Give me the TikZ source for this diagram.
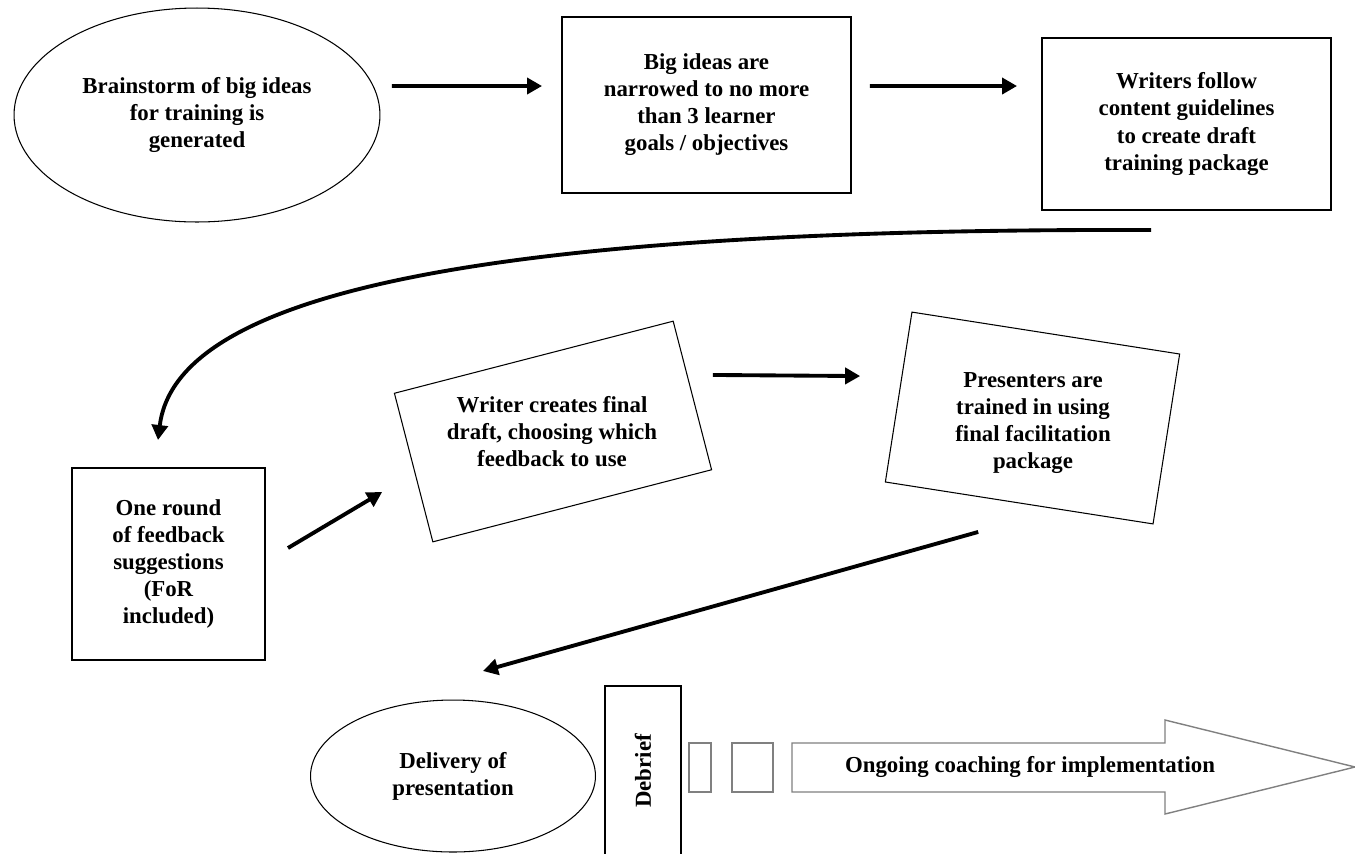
\documentclass[tikz,border=0pt]{standalone}
\usepackage{fontspec}
\setmainfont{Liberation Serif}
\usepackage{tikz}
\usetikzlibrary{arrows.meta,shapes.geometric}

\begin{document}
\begin{tikzpicture}[
  x=0.02cm, y=-0.02cm,
  txt/.style={font=\bfseries\fontsize{13}{15.4}\selectfont, align=center},
  box/.style={txt, draw, line width=1pt, inner sep=0pt, outer sep=0pt},
  oval/.style={txt, ellipse, draw, line width=0.6pt, inner sep=0pt, outer sep=0pt},
  tilted/.style={draw, line width=0.6pt, inner sep=0pt, outer sep=0pt},
  gbox/.style={draw=gray, line width=0.8pt, inner sep=0pt, outer sep=0pt},
  flow/.style={-{Triangle[length=0.3cm,width=0.32cm]}, line width=2.2pt},
]
  \useasboundingbox (0,0) rectangle (1355,853);
  % Top row
  \node[oval, minimum width=7.32cm, minimum height=4.28cm] (brain) at (197,115)
    {Brainstorm of big ideas\\for training is\\generated};
  \node[box, minimum width=5.78cm, minimum height=3.52cm] (narrow) at (706.5,105)
    {Big ideas are\\narrowed to no more\\than 3 learner\\goals / objectives};
  \node[box, minimum width=5.78cm, minimum height=3.44cm] (follow) at (1186.5,124)
    {Writers follow\\content guidelines\\to create draft\\training package};
  \draw[flow] ([shift={(0.24cm,0.58cm)}]brain.east) -- ([shift={(-0.4cm,0.38cm)}]narrow.west);
  \draw[flow] ([shift={(0.38cm,0.38cm)}]narrow.east) -- ([shift={(-0.5cm,0.76cm)}]follow.west);
  % Middle row
  \node[box, minimum width=3.86cm, minimum height=3.84cm] (feedback) at (168.5,564)
    {One round\\of feedback\\suggestions\\(FoR\\included)};
  \node[tilted, minimum width=5.76cm, minimum height=3.07cm, rotate=14.5] (final) at (553,431.5) {};
  \node[txt] (finaltxt) at (552,432) {Writer creates final\\draft, choosing which\\feedback to use};
  \node[tilted, minimum width=5.42cm, minimum height=3.44cm, rotate=-8.9] (present) at (1032.5,418) {};
  \node[txt] (presenttxt) at (1033,423) {Presenters are\\trained in using\\final facilitation\\package};
  \draw[flow] ([shift={(-0.71cm,-0.4cm)}]follow.south)
    .. controls (450,228) and (175,300) .. ([shift={(-0.21cm,0.56cm)}]feedback.north);
  \draw[flow] ([shift={(0.46cm,0.32cm)}]feedback.east) -- ([shift={(-0.63cm,-0.49cm)}]final.west);
  \draw[flow] ([shift={(0.41cm,0.41cm)}]final.east) -- ([shift={(-0.77cm,0.42cm)}]present.west);
  % Bottom row
  \node[oval, minimum width=5.7cm, minimum height=3.04cm] (deliver) at (453,776)
    {Delivery of\\presentation};
  \draw[flow] ([shift={(-0.82cm,-0.58cm)}]present.south) -- ([shift={(0.6cm,0.58cm)}]deliver.north);
  \node[box, minimum width=3.4cm, minimum height=1.52cm, rotate=90] (debrief) at (643,771) {Debrief};
  \foreach \x/\w [count=\i] in {700/0.44, 752.5/0.82}{
    \node[gbox, minimum width=\w cm, minimum height=0.98cm] (gap\i) at (\x,767.5) {};
  }
  \draw[gbox] (792,743) -- (1165,743) -- (1165,720) -- (1355,767)
    -- (1165,814) -- (1165,792) -- (792,792) -- cycle;
  \node[txt] (coach) at (1030,767) {Ongoing coaching for implementation};
\end{tikzpicture}
\end{document}
